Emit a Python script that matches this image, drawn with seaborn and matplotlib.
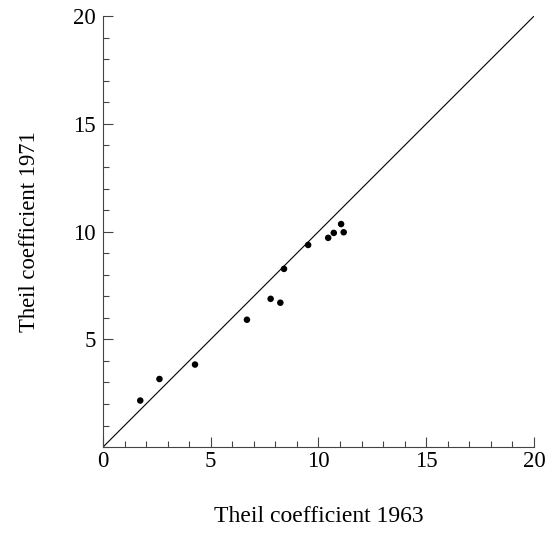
import matplotlib
matplotlib.use("Agg")
import matplotlib.pyplot as plt
import seaborn as sns
import pandas as pd
from matplotlib.ticker import MultipleLocator, FixedLocator

sns.set_theme(style="ticks")
plt.rcParams['font.family'] = ['Liberation Serif', 'DejaVu Serif']

theil_1963 = [1.73, 2.62, 4.27, 6.68, 7.78, 8.23, 8.40, 9.52, 10.45, 10.71, 11.05, 11.17]
theil_1971 = [2.16, 3.16, 3.83, 5.91, 6.88, 6.70, 8.27, 9.38, 9.71, 9.94, 10.35, 9.97]
x_ticks = [0, 5, 10, 15, 20]
y_ticks = [5, 10, 15, 20]
x_label = "Theil coefficient 1963"
y_label = "Theil coefficient 1971"

df = pd.DataFrame({"x": theil_1963, "y": theil_1971})

fig = plt.figure(figsize=(5.46, 5.38), dpi=100)
ax = fig.add_axes([0.1886, 0.169, 0.7894, 0.801])

ax.plot([0, 20], [0, 20], color="black", lw=0.8)
sns.scatterplot(data=df, x="x", y="y", ax=ax, color="black", s=22, edgecolor="none", zorder=3)

ax.set_xlim(0, 20)
ax.set_ylim(0, 20)
ax.xaxis.set_major_locator(FixedLocator(x_ticks))
ax.yaxis.set_major_locator(FixedLocator(y_ticks))
ax.xaxis.set_minor_locator(MultipleLocator(1))
ax.yaxis.set_minor_locator(MultipleLocator(1))
ax.tick_params(which="major", direction="in", length=7, width=0.8, color="#444444",
               labelsize=16.5, labelcolor="black")
ax.tick_params(axis="x", which="major", pad=3)
ax.tick_params(axis="y", which="major", pad=5)
ax.tick_params(which="minor", direction="in", length=4, width=0.8, color="#444444")
for s in ["top", "right"]:
    ax.spines[s].set_visible(False)
for s in ["left", "bottom"]:
    ax.spines[s].set_color("#444444")
    ax.spines[s].set_linewidth(0.8)

ax.set_xlabel(x_label, fontsize=17, labelpad=24, color="black")
ax.set_ylabel(y_label, fontsize=16.3, labelpad=24, color="black")

fig.savefig("out.png", dpi=100)
